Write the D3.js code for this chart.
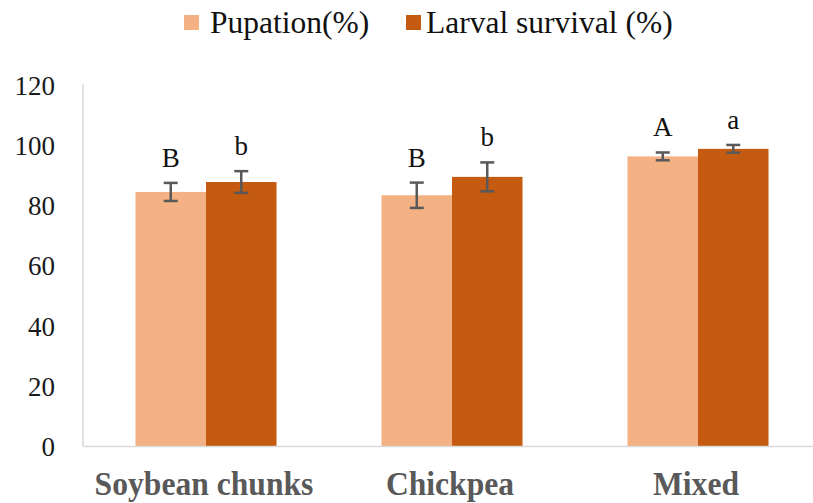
<!DOCTYPE html>
<html>
<head>
<meta charset="utf-8">
<script src="https://cdn.jsdelivr.net/npm/d3@7"></script>
<style>
  body { margin: 0; background: #fff; }
  svg { display: block; }
</style>
</head>
<body>
<svg width="813" height="503"></svg>
<script>
'use strict'

var categories = ["Soybean chunks", "Chickpea", "Mixed"];
var seriesNames = ["Pupation(%)", "Larval survival (%)"];
var seriesColors = ["#F4B183", "#C55A11"];

var pupation = [84.5, 83.4, 96.3];
var pupationErr = [3.0, 4.2, 1.3];
var survival = [87.8, 89.5, 98.8];
var survivalErr = [3.6, 4.8, 1.3];

var pupationLetters = ["B", "B", "A"];
var survivalLetters = ["b", "b", "a"];

var yTicks = [0, 20, 40, 60, 80, 100, 120];

var serif = "'Liberation Serif', 'Times New Roman', serif";

var svg = d3.select("svg"),
  margin = {
    top: 85,
    left: 83,
    bottom: 56
  },
  height = +svg.attr("height") - margin.bottom;

var rows = [];
categories.forEach(function(c, i) {
  rows.push({ cat: c, s: 0, value: pupation[i], err: pupationErr[i], letter: pupationLetters[i] });
  rows.push({ cat: c, s: 1, value: survival[i], err: survivalErr[i], letter: survivalLetters[i] });
});

var x0 = d3.scaleBand()
  .domain(categories)
  .range([margin.left, 821])
  .paddingInner(0.4268)
  .paddingOuter(0.2134);

var x1 = d3.scaleBand()
  .domain([0, 1])
  .range([0, x0.bandwidth()]);

var y = d3.scaleLinear()
  .domain([0, 120])
  .range([height - 0.5, margin.top]);

// y axis line
svg.append("line")
  .attr("x1", margin.left).attr("x2", margin.left)
  .attr("y1", y(120) - 1).attr("y2", y(0))
  .attr("stroke", "#d9d9d9")
  .attr("stroke-width", 1.5);

// y tick labels
var yAxis = d3.axisLeft(y)
  .tickValues(yTicks)
  .tickSize(0)
  .tickPadding(28);

var gy = svg.append("g")
  .attr("transform", "translate(" + margin.left + ",0)")
  .call(yAxis);
gy.select(".domain").remove();
gy.selectAll("text")
  .attr("font-family", serif)
  .attr("font-size", 27)
  .attr("fill", "#1a1a1a")
  .attr("dy", "0.34em");

// bars
svg.append("g")
  .selectAll("rect")
  .data(rows)
  .enter()
  .append("rect")
  .attr("x", function(d) { return x0(d.cat) + x1(d.s); })
  .attr("width", x1.bandwidth())
  .attr("y", function(d) { return y(d.value); })
  .attr("height", function(d) { return y(0) - y(d.value); })
  .attr("fill", function(d) { return seriesColors[d.s]; });

// x axis baseline
svg.append("line")
  .attr("x1", margin.left).attr("x2", 821)
  .attr("y1", y(0)).attr("y2", y(0))
  .attr("stroke", "#d9d9d9")
  .attr("stroke-width", 1.5);

// error bars
var capW = 14;
var eb = svg.append("g")
  .attr("stroke", "#595959")
  .attr("stroke-width", 2.5)
  .selectAll("g")
  .data(rows)
  .enter()
  .append("g")
  .attr("transform", function(d) {
    return "translate(" + (x0(d.cat) + x1(d.s) + x1.bandwidth() / 2) + ",0)";
  });

eb.append("line")
  .attr("y1", function(d) { return y(d.value + d.err); })
  .attr("y2", function(d) { return y(d.value - d.err); });
eb.append("line")
  .attr("x1", -capW / 2).attr("x2", capW / 2)
  .attr("y1", function(d) { return y(d.value + d.err); })
  .attr("y2", function(d) { return y(d.value + d.err); });
eb.append("line")
  .attr("x1", -capW / 2).attr("x2", capW / 2)
  .attr("y1", function(d) { return y(d.value - d.err); })
  .attr("y2", function(d) { return y(d.value - d.err); });

// significance letters
svg.append("g")
  .selectAll("text")
  .data(rows)
  .enter()
  .append("text")
  .attr("x", function(d) { return x0(d.cat) + x1(d.s) + x1.bandwidth() / 2; })
  .attr("y", function(d) { return y(d.value + d.err) - 16; })
  .attr("text-anchor", "middle")
  .attr("font-family", serif)
  .attr("font-size", 27)
  .attr("fill", "#111")
  .text(function(d) { return d.letter; });

// category labels (bold, slightly condensed)
svg.append("g")
  .selectAll("text")
  .data(categories)
  .enter()
  .append("text")
  .attr("transform", function(d) {
    return "translate(" + (x0(d) + x0.bandwidth() / 2 - 2) + ",495) scale(0.93,1)";
  })
  .attr("text-anchor", "middle")
  .attr("font-family", serif)
  .attr("font-weight", "bold")
  .attr("font-size", 34)
  .attr("fill", "#595959")
  .text(function(d) { return d; });

// legend
var legendX = [184, 406];
var legend = svg.append("g")
  .selectAll("g")
  .data(seriesNames)
  .enter()
  .append("g")
  .attr("transform", function(d, i) { return "translate(" + legendX[i] + ",0)"; });

legend.append("rect")
  .attr("x", 0)
  .attr("y", 15)
  .attr("width", 15)
  .attr("height", 15)
  .attr("fill", function(d, i) { return seriesColors[i]; });

legend.append("text")
  .attr("x", function(d, i) { return i === 0 ? 26 : 20; })
  .attr("y", 33)
  .attr("font-family", serif)
  .attr("font-size", 31.5)
  .attr("fill", "#111")
  .text(function(d) { return d; });
</script>
</body>
</html>
